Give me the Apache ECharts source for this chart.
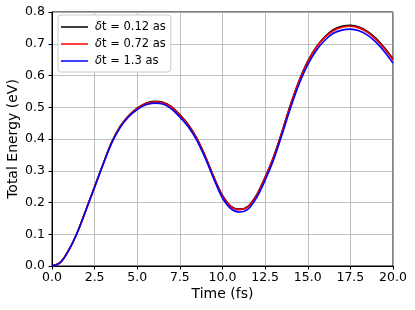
<!DOCTYPE html>
<html>
<head>
<meta charset="utf-8">
<script src="https://cdn.jsdelivr.net/npm/echarts@6/dist/echarts.min.js"></script>
<style>html,body{margin:0;padding:0;background:#fff}#c{width:415px;height:310px}</style>
</head>
<body>
<div id="c"></div>
<script>
const times = [0, 0.5, 1, 1.5, 2, 2.5, 3, 3.5, 4, 4.5, 5, 5.5, 6, 6.5, 7, 7.5, 8, 8.5, 9, 9.5, 10, 10.5, 11, 11.5, 12, 12.5, 13, 13.5, 14, 14.5, 15, 15.5, 16, 16.5, 17, 17.5, 18, 18.5, 19, 19.5, 20];
const seriesNames = ['δt = 0.12 as', 'δt = 0.72 as', 'δt = 1.3 as'];
const energyDt012 = [0, 0.012, 0.052, 0.108, 0.178, 0.25, 0.322, 0.39, 0.44, 0.474, 0.497, 0.513, 0.519, 0.516, 0.502, 0.476, 0.445, 0.402, 0.345, 0.28, 0.222, 0.188, 0.179, 0.188, 0.224, 0.28, 0.345, 0.425, 0.51, 0.585, 0.645, 0.69, 0.722, 0.744, 0.755, 0.758, 0.753, 0.739, 0.717, 0.687, 0.652];
const energyDt072 = [0, 0.012, 0.052, 0.108, 0.178, 0.25, 0.321, 0.389, 0.439, 0.473, 0.496, 0.511, 0.517, 0.514, 0.5, 0.474, 0.443, 0.4, 0.343, 0.278, 0.22, 0.186, 0.177, 0.186, 0.222, 0.278, 0.343, 0.423, 0.508, 0.583, 0.643, 0.688, 0.72, 0.741, 0.752, 0.755, 0.75, 0.736, 0.714, 0.684, 0.649];
const energyDt13 = [0, 0.011, 0.051, 0.107, 0.177, 0.248, 0.32, 0.387, 0.436, 0.47, 0.493, 0.508, 0.513, 0.51, 0.495, 0.469, 0.438, 0.395, 0.338, 0.273, 0.214, 0.18, 0.17, 0.179, 0.215, 0.27, 0.335, 0.415, 0.499, 0.574, 0.634, 0.679, 0.711, 0.733, 0.743, 0.746, 0.741, 0.727, 0.705, 0.675, 0.639];
const xTitle = 'Time (fs)';
const yTitle = 'Total Energy (eV)';

const colors = ['#000000', '#ff0000', '#0000ff'];
const allData = [energyDt012, energyDt072, energyDt13];
const font = 'DejaVu Sans';

const chart = echarts.init(document.getElementById('c'), null, {renderer: 'canvas'});
chart.setOption({
  animation: false,
  backgroundColor: '#fff',
  textStyle: {fontFamily: font},
  grid: {left: 52, right: 22, top: 12, bottom: 44, outerBoundsMode: 'none', containLabel: false,
    show: true, borderColor: '#000', borderWidth: 1, backgroundColor: 'transparent'},
  legend: {
    orient: 'vertical',
    left: 58, top: 15,
    padding: [5, 5, 4, 3],
    itemWidth: 27, itemHeight: 1.5, itemGap: 3,
    icon: 'rect',
    backgroundColor: '#fff',
    borderColor: '#cccccc', borderWidth: 1, borderRadius: 3,
    data: seriesNames,
    formatter: n => '{i|δ}' + n.slice(1),
    textStyle: {fontFamily: font, fontSize: 11.5, color: '#000', lineHeight: 14, padding: [0, 0, 0, 2],
      rich: {i: {fontStyle: 'italic', fontFamily: font, fontSize: 11.5}}}
  },
  xAxis: {
    type: 'value', min: 0, max: 20, interval: 2.5,
    name: xTitle, nameLocation: 'middle', nameGap: 21, nameMoveOverlap: false,
    nameTextStyle: {fontFamily: font, fontSize: 14, color: '#000'},
    axisLine: {show: true, lineStyle: {color: '#000', width: 1}},
    axisTick: {show: true, length: 3.5, lineStyle: {color: '#000'}},
    axisLabel: {color: '#000', fontFamily: font, fontSize: 12.5, margin: 5, formatter: v => v.toFixed(1)},
    splitLine: {show: true, lineStyle: {color: '#b0b0b0', width: 0.8}}
  },
  yAxis: {
    type: 'value', min: 0, max: 0.8, interval: 0.1,
    name: yTitle, nameLocation: 'middle', nameGap: 32, nameRotate: 90, nameMoveOverlap: false,
    nameTextStyle: {fontFamily: font, fontSize: 14, color: '#000'},
    axisLine: {show: true, lineStyle: {color: '#000', width: 1}},
    axisTick: {show: true, length: 3.5, lineStyle: {color: '#000'}},
    axisLabel: {color: '#000', fontFamily: font, fontSize: 12.5, margin: 7, formatter: v => v.toFixed(1)},
    splitLine: {show: true, lineStyle: {color: '#b0b0b0', width: 0.8}}
  },
  series: seriesNames.map((n, i) => ({
    name: n, type: 'line', smooth: 0.35, showSymbol: false, symbol: 'none',
    data: times.map((t, k) => [t, allData[i][k]]),
    lineStyle: {color: colors[i], width: 1.6},
    itemStyle: {color: colors[i]},
    z: 2 + i
  }))
});
</script>
</body>
</html>
